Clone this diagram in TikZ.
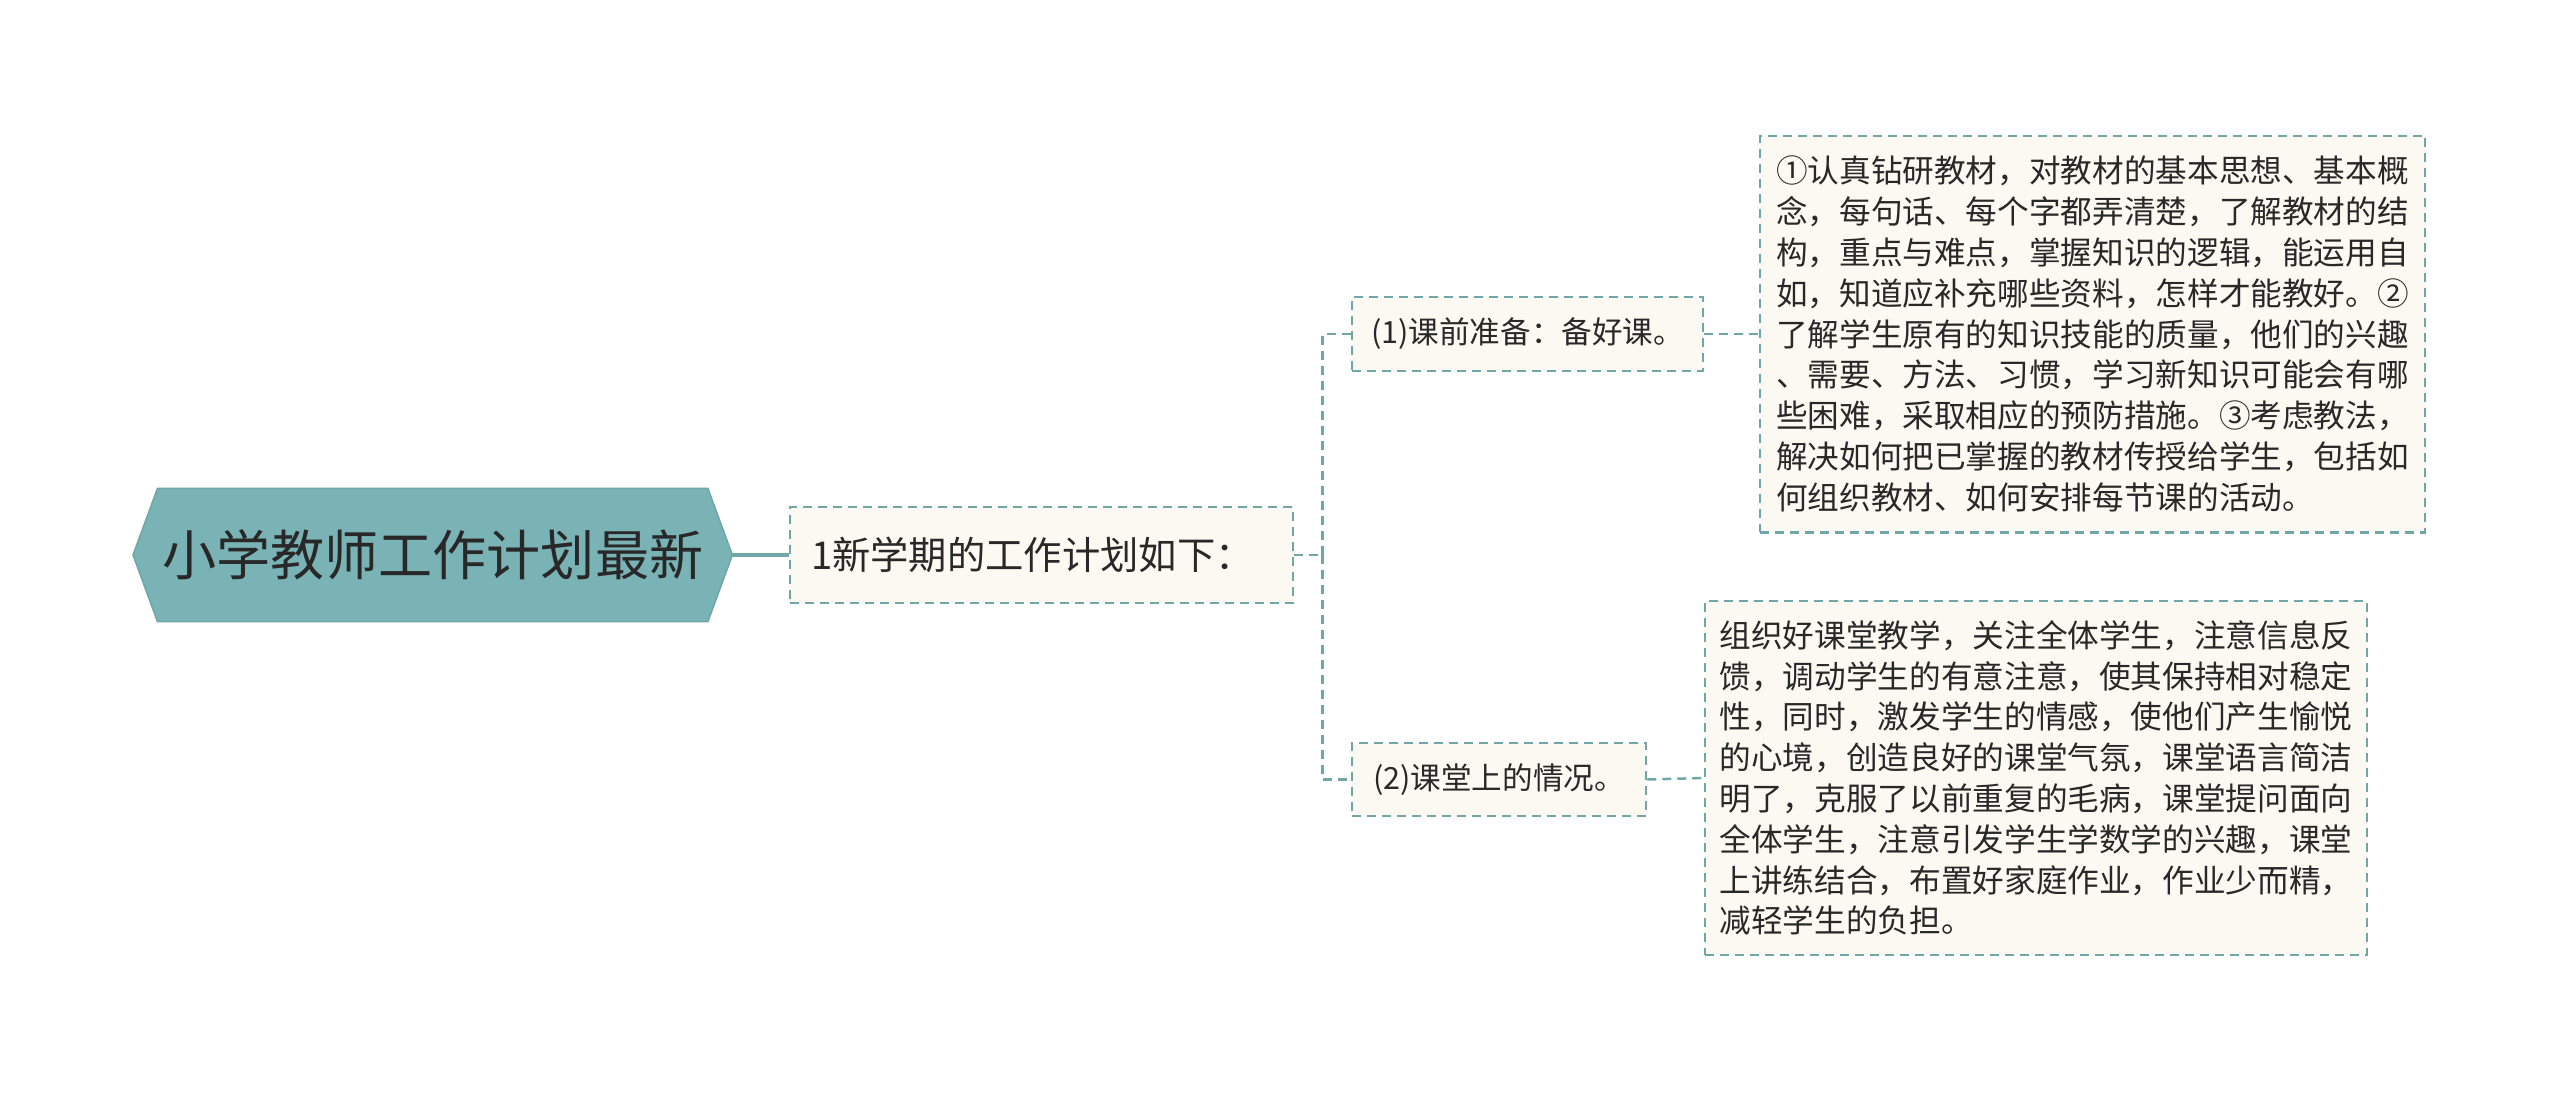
\documentclass[tikz,border=0pt]{standalone}
\usepackage{fontspec}
\newfontfamily\cjk{Noto Sans CJK SC}
\usepackage{tikz}
\usetikzlibrary{calc,positioning,backgrounds}
\usepackage{xcolor}
\definecolor{Sarcelle}{RGB}{113,166,168}
\definecolor{SarcelleClair}{RGB}{122,179,182}
\definecolor{Creme}{RGB}{251,249,241}
\definecolor{Encre}{RGB}{40,40,40}

\begin{document}
\begin{tikzpicture}[
  racine/.style={inner sep=0pt, minimum width=5.98cm, minimum height=1.32cm, text=Encre, font=\cjk\fontsize{15.4}{18}\selectfont},
  boite/.style={draw=Sarcelle, fill=Creme, dash pattern=on 0.09cm off 0.06cm, line width=0.025cm, inner sep=0pt, text=Encre},
  lien/.style={draw=Sarcelle, line width=0.045cm},
  tiret/.style={draw=Sarcelle, line width=0.025cm, dash pattern=on 0.09cm off 0.06cm}
]
\useasboundingbox (0,0) rectangle (25.6,10.93);
%
\node[racine] (root) at (4.327,5.38) {小学教师工作计划最新};
\begin{scope}[on background layer]
\filldraw[fill=SarcelleClair, draw=Sarcelle, line width=0.015cm] (root.west) -- ($(root.north west)+(0.245,0)$) -- ($(root.north east)+(-0.245,0)$) -- (root.east) -- ($(root.south east)+(-0.245,0)$) -- ($(root.south west)+(0.245,0)$) -- cycle;
\end{scope}
%
\node[boite, text width=4.61cm, inner xsep=0.21cm, minimum height=0.96cm, align=left, font=\cjk\fontsize{10.9}{13}\selectfont] (plan) at (10.415,5.38) {1新学期的工作计划如下：};
\node[boite, minimum width=3.51cm, minimum height=0.74cm, font=\cjk\fontsize{8.7}{11}\selectfont] (avant) at (15.275,7.59) {(1)课前准备：备好课。};
\node[boite, minimum width=2.94cm, minimum height=0.73cm, font=\cjk\fontsize{8.7}{11}\selectfont] (classe) at (14.99,3.135) {(2)课堂上的情况。};
%
\node[boite, minimum width=6.65cm, minimum height=3.965cm, align=left, font=\cjk\fontsize{9}{11.6}\selectfont] (detailA) at (20.925,7.59) {①认真钻研教材，对教材的基本思想、基本概\\念，每句话、每个字都弄清楚，了解教材的结\\构，重点与难点，掌握知识的逻辑，能运用自\\如，知道应补充哪些资料，怎样才能教好。②\\了解学生原有的知识技能的质量，他们的兴趣\\、需要、方法、习惯，学习新知识可能会有哪\\些困难，采取相应的预防措施。③考虑教法，\\解决如何把已掌握的教材传授给学生，包括如\\何组织教材、如何安排每节课的活动。};
\node[boite, minimum width=6.62cm, minimum height=3.54cm, align=left, font=\cjk\fontsize{9}{11.6}\selectfont] (detailB) at (20.36,3.15) {组织好课堂教学，关注全体学生，注意信息反\\馈，调动学生的有意注意，使其保持相对稳定\\性，同时，激发学生的情感，使他们产生愉悦\\的心境，创造良好的课堂气氛，课堂语言简洁\\明了，克服了以前重复的毛病，课堂提问面向\\全体学生，注意引发学生学数学的兴趣，课堂\\上讲练结合，布置好家庭作业，作业少而精，\\减轻学生的负担。};
%
\coordinate (fourche) at (13.225,5.38);
\draw[lien] (root.east) -- (plan.west);
\draw[tiret] (plan.east) -- (fourche);
\draw[tiret] (fourche) |- (avant.west);
\draw[tiret] (fourche) |- (classe.west);
\draw[tiret] (avant.east) -- (detailA.west);
\draw[tiret] (classe.east) -- (detailB.west);
%
\end{tikzpicture}
\end{document}
